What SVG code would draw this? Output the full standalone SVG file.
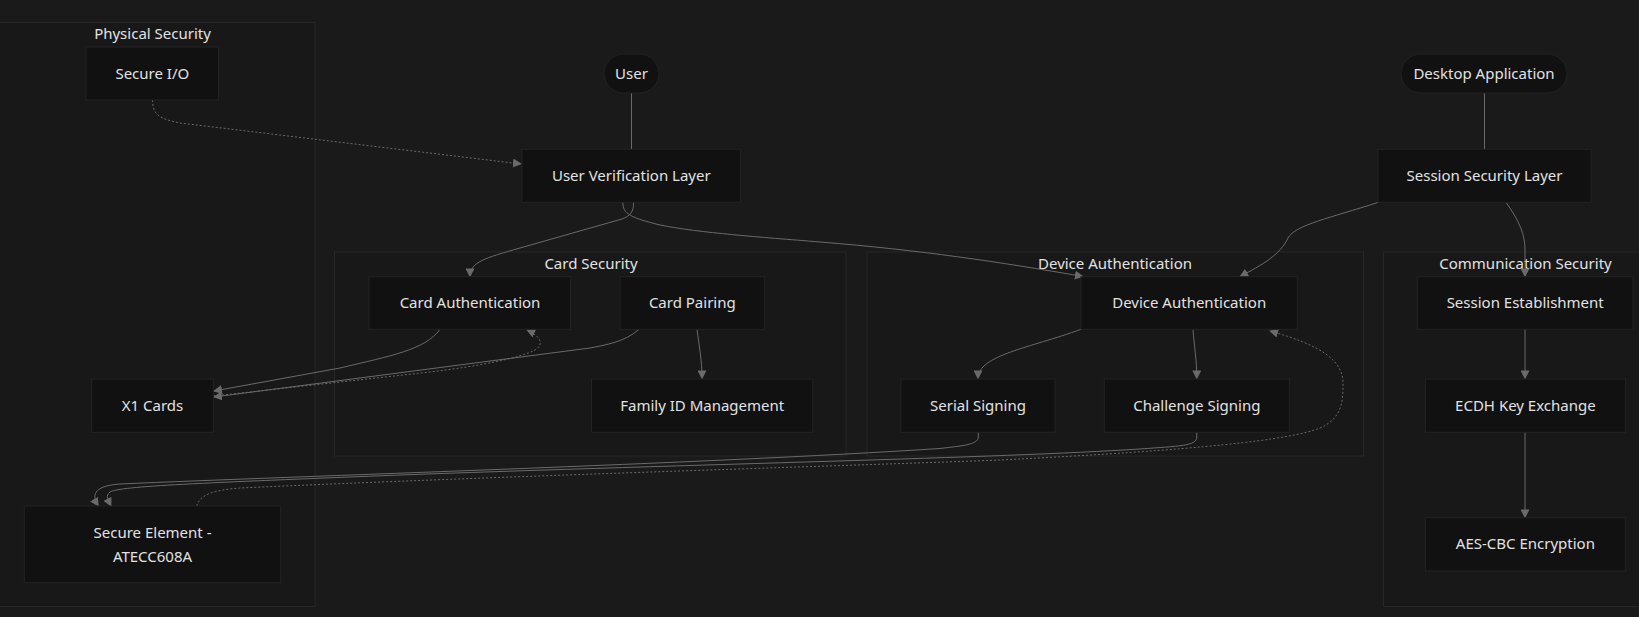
<svg xmlns="http://www.w3.org/2000/svg" width="1639" height="617" viewBox="0 0 1639 617">
<defs>
<style>
.cl{fill:#181818;stroke:#272727;stroke-width:1}
.nd{fill:#111111;stroke:#232323;stroke-width:1}
.t{font-family:"Noto Sans","Open Sans",sans-serif;font-size:15px;fill:#e2e2e2;text-anchor:middle}
.e{fill:none;stroke:#6a6a6a;stroke-width:1}
.d{stroke-dasharray:2 2}
</style>
<marker id="ah" viewBox="0 0 10 10" refX="9" refY="5" markerWidth="9" markerHeight="9" markerUnits="userSpaceOnUse" orient="auto">
<path d="M0,0 L10,5 L0,10 z" fill="#6a6a6a"/>
</marker>
</defs>
<rect x="0" y="0" width="1639" height="617" fill="#1a1a1a"/>
<g id="clusters">
<g id="cl-physical"><rect class="cl" x="-10" y="22.5" width="325" height="584"/><text class="t" x="152.5" y="39">Physical Security</text></g>
<g id="cl-card"><rect class="cl" x="334.5" y="252" width="511.5" height="204"/><text class="t" x="591" y="269">Card Security</text></g>
<g id="cl-device"><rect class="cl" x="867" y="252" width="496.5" height="204"/><text class="t" x="1115" y="269">Device Authentication</text></g>
<g id="cl-comm"><rect class="cl" x="1383.5" y="252" width="290" height="354.5"/><text class="t" x="1525.5" y="269">Communication Security</text></g>
</g>
<g id="connectors">
<path class="e" d="M631.5,93 L631.5,149.3"/>
<path class="e" d="M1484.5,93 L1484.5,149.3"/>
<path class="e d" marker-end="url(#ah)" d="M152.5,100 C152.5,115 160,119 180,123 L521,164"/>
<path class="e" marker-end="url(#ah)" d="M633.5,202 C634,212 630,216 622,219 L520,248 C485,258 470,262 470,276.5"/>
<path class="e" marker-end="url(#ah)" d="M623,202 C622,214 632,218 660,225 C700,233 760,237 820,242 C920,250 1000,262 1083,276.5"/>
<path class="e" marker-end="url(#ah)" d="M1378.5,202.3 C1330,218 1295,225 1288,238 C1280,255 1262,265 1240,276.5"/>
<path class="e" marker-end="url(#ah)" d="M1506,202.3 C1520,222 1525,235 1525,250 L1525,276.5"/>
<path class="e" marker-end="url(#ah)" d="M1525,329.3 L1525,378.5"/>
<path class="e" marker-end="url(#ah)" d="M1525,432.3 L1525,517.5"/>
<path class="e" marker-end="url(#ah)" d="M440,329.3 C425,350 390,356 340,368 L214,391"/>
<path class="e" marker-end="url(#ah)" d="M639,329.3 C625,342 605,345 590,348 L214,397"/>
<path class="e d" marker-end="url(#ah)" d="M214,396 L430,372 C480,366 520,358 535,350 C545,344 540,336 527,330"/>
<path class="e" marker-end="url(#ah)" d="M697,329.3 C699,345 702,360 702,378.5"/>
<path class="e" marker-end="url(#ah)" d="M1081,329.3 C1030,348 978,355 978,378.5"/>
<path class="e" marker-end="url(#ah)" d="M1193,329.3 C1194,345 1196.8,360 1196.8,378.5"/>
<path class="e" marker-end="url(#ah)" d="M978.3,432.3 L978.3,437 C978.3,445 960,446 940,448.5 C700,464 300,476 120,484 C92,486 92,496 98.3,506"/>
<path class="e" marker-end="url(#ah)" d="M1196.8,432.3 L1196.8,437 C1196.8,446 1180,446 1140,449 C1000,458 700,464 400,475 C200,483 120,486 110,492 C105,496 108,500 111,506"/>
<path class="e d" marker-end="url(#ah)" d="M196.7,506 C200,494 215,490 240,488 C500,476 900,464 1000,460 C1200,450 1290,440 1320,428 C1343,418 1343,400 1343,383 C1343,360 1320,345 1270,331"/>
</g>
<g id="n-secureio"><rect class="nd" x="86" y="47" width="132.5" height="53"/><text class="t" x="152.3" y="78.5">Secure I/O</text></g>
<g id="n-user"><rect class="nd" x="604" y="54" width="55" height="39" rx="19.5"/><text class="t" x="631.5" y="78.5">User</text></g>
<g id="n-desktop"><rect class="nd" x="1401" y="54" width="166" height="39" rx="19.5"/><text class="t" x="1484" y="78.5">Desktop Application</text></g>
<g id="n-uvl"><rect class="nd" x="522" y="149.3" width="218.6" height="53"/><text class="t" x="631.3" y="181">User Verification Layer</text></g>
<g id="n-ssl"><rect class="nd" x="1378" y="149.3" width="213" height="53"/><text class="t" x="1484.5" y="181">Session Security Layer</text></g>
<g id="n-cardauth"><rect class="nd" x="369" y="276.7" width="201.7" height="52.6"/><text class="t" x="470" y="308">Card Authentication</text></g>
<g id="n-cardpair"><rect class="nd" x="620" y="276.7" width="144.6" height="52.6"/><text class="t" x="692.3" y="308">Card Pairing</text></g>
<g id="n-deviceauth"><rect class="nd" x="1081" y="276.7" width="216.3" height="52.6"/><text class="t" x="1189.2" y="308">Device Authentication</text></g>
<g id="n-sessest"><rect class="nd" x="1417.3" y="276.7" width="215.7" height="52.6"/><text class="t" x="1525.2" y="308">Session Establishment</text></g>
<g id="n-x1"><rect class="nd" x="91.7" y="379" width="121.6" height="53.3"/><text class="t" x="152.5" y="410.5">X1 Cards</text></g>
<g id="n-family"><rect class="nd" x="591.5" y="379" width="221.3" height="53.3"/><text class="t" x="702.2" y="410.5">Family ID Management</text></g>
<g id="n-serial"><rect class="nd" x="901" y="379" width="154" height="53.3"/><text class="t" x="978" y="410.5">Serial Signing</text></g>
<g id="n-challenge"><rect class="nd" x="1104.3" y="379" width="185" height="53.3"/><text class="t" x="1196.8" y="410.5">Challenge Signing</text></g>
<g id="n-ecdh"><rect class="nd" x="1425.4" y="379" width="200" height="53.3"/><text class="t" x="1525.4" y="410.5">ECDH Key Exchange</text></g>
<g id="n-aes"><rect class="nd" x="1425.4" y="517.7" width="200" height="53.3"/><text class="t" x="1525.4" y="549.3">AES-CBC Encryption</text></g>
<g id="n-se"><rect class="nd" x="24.3" y="506" width="256.4" height="76.7"/><text class="t" x="152.5" y="538.3">Secure Element -</text><text class="t" x="152.5" y="562">ATECC608A</text></g>
</svg>
